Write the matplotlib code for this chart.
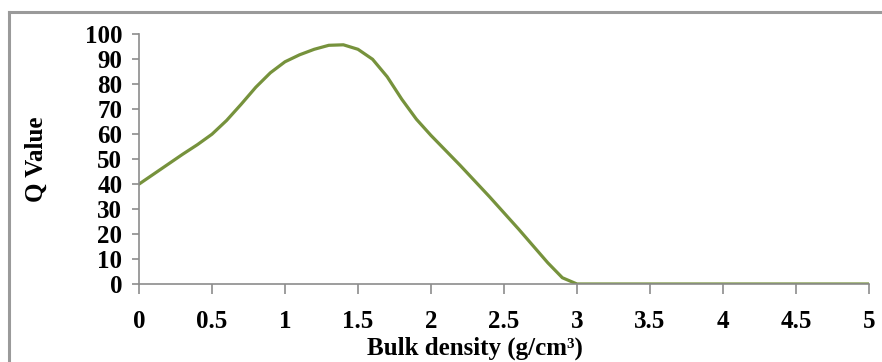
import matplotlib.pyplot as plt
from matplotlib.lines import Line2D


# DADOS

densidade = [0, 0.1, 0.2, 0.3, 0.4, 0.5, 0.6, 0.7, 0.8, 0.9,
             1.0, 1.1, 1.2, 1.3, 1.4, 1.5, 1.6, 1.7, 1.8, 1.9,
             2.0, 2.1, 2.2, 2.4, 2.6, 2.8, 2.9, 3.0, 3.5, 4.0, 4.5, 5.0]

q_valor = [40, 44, 48, 52, 55.8, 60, 65.5, 72, 78.8, 84.6,
           89, 91.8, 94, 95.6, 95.8, 94, 90, 83, 74, 66,
           59.5, 53.5, 47.5, 35, 22, 8.5, 2.5, 0, 0, 0, 0, 0]

x_ticks = [0, 0.5, 1, 1.5, 2, 2.5, 3, 3.5, 4, 4.5, 5]
x_tick_labels = ["0", "0.5", "1", "1.5", "2", "2.5", "3", "3.5", "4", "4.5", "5"]
y_ticks = [0, 10, 20, 30, 40, 50, 60, 70, 80, 90, 100]


# FIGURA

plt.rcParams["font.family"] = ["Liberation Serif", "DejaVu Serif"]
plt.rcParams["font.weight"] = "bold"

fig = plt.figure(figsize=(8.82, 3.62), dpi=100)

ax = fig.add_axes([0.1576, 0.2155, 0.8276, 0.6897])

ax.plot(
    densidade,
    q_valor,
    color="#76923C",
    linewidth=2.3,
    solid_capstyle="round",
    solid_joinstyle="round"
)

ax.set_xlim(0, 5)
ax.set_ylim(0, 100)

ax.set_xticks(x_ticks)
ax.set_xticklabels(x_tick_labels)
ax.set_yticks(y_ticks)

for s in ["top", "right"]:
    ax.spines[s].set_visible(False)

for s in ["left", "bottom"]:
    ax.spines[s].set_color("#8c8c8c")
    ax.spines[s].set_linewidth(1.2)

ax.tick_params(
    axis="x",
    direction="out",
    length=7,
    width=1.2,
    color="#8c8c8c",
    pad=12,
    labelsize=18
)

ax.tick_params(
    axis="y",
    direction="out",
    length=5,
    width=1.2,
    color="#8c8c8c",
    pad=7,
    labelsize=18
)

for lbl in ax.get_xticklabels() + ax.get_yticklabels():
    lbl.set_fontweight("bold")

ax.set_xlabel(
    "Bulk density (g/cm³)",
    fontsize=18,
    fontweight="bold"
)
ax.xaxis.set_label_coords(0.46, -0.21)

ax.set_ylabel(
    "Q Value",
    fontsize=18,
    fontweight="bold"
)
ax.yaxis.set_label_coords(-0.125, 0.5)

# moldura cinza da área do gráfico
fig.add_artist(Line2D([9 / 882, 9 / 882], [0, 1 - 11.5 / 362],
                      transform=fig.transFigure, color="#9a9a9a", linewidth=2.2))
fig.add_artist(Line2D([9 / 882, 1], [1 - 11.5 / 362, 1 - 11.5 / 362],
                      transform=fig.transFigure, color="#9a9a9a", linewidth=2.2))

fig.savefig("out.png", dpi=100)
